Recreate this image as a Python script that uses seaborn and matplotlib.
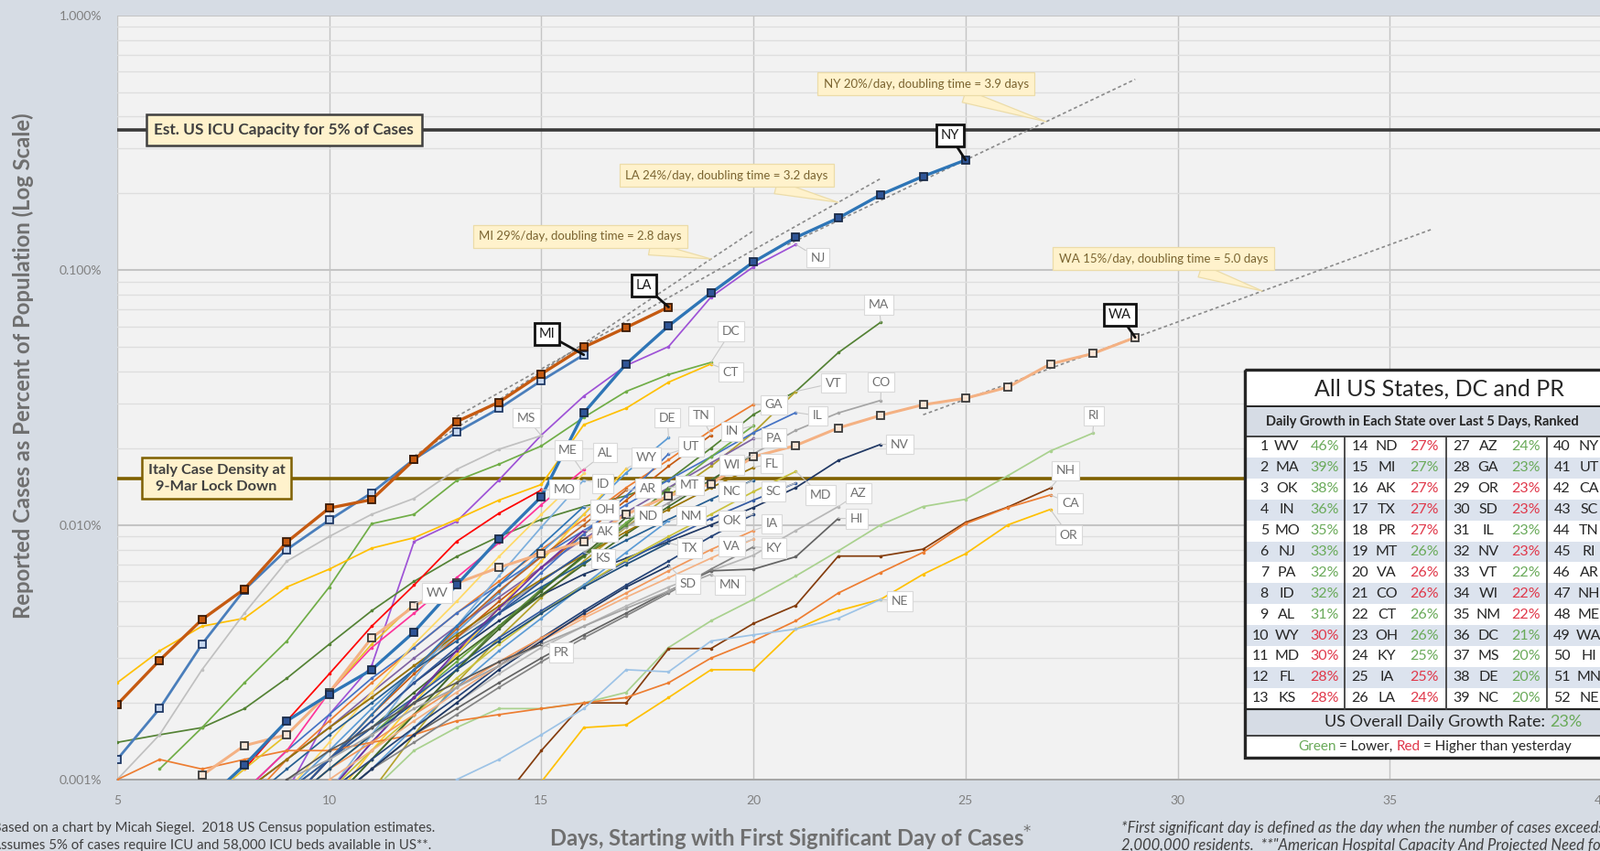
import matplotlib
matplotlib.use("Agg")
import matplotlib.pyplot as plt
from matplotlib.patches import Rectangle
from matplotlib.ticker import FixedLocator, FuncFormatter, LogLocator, NullFormatter
import numpy as np
import pandas as pd
import seaborn as sns

# ------------------------------------------------------------------
# Reported cases as percent of population, by day since first significant day.
# Each state: (first day plotted, daily values in percent)
# ------------------------------------------------------------------
NY = (7, [0.0008, 0.00114, 0.0017, 0.00216, 0.0027, 0.0038, 0.0058, 0.0088, 0.0129,
          0.0275, 0.0428, 0.0604, 0.0813, 0.1076, 0.1343, 0.160, 0.1977, 0.2333, 0.2704])
LA = (5, [0.00197, 0.00294, 0.00425, 0.0056, 0.00856, 0.01164, 0.01256, 0.0180,
          0.0254, 0.0303, 0.0391, 0.0498, 0.0595, 0.0716])
MI = (5, [0.0012, 0.0019, 0.0034, 0.00556, 0.0080, 0.01044, 0.01336, 0.0181,
          0.0231, 0.0286, 0.0368, 0.0465])
WA = (7, [0.00104, 0.00136, 0.0015, 0.0022, 0.0036, 0.0048, 0.0059, 0.0068, 0.0077,
          0.0086, 0.0110, 0.0130, 0.0145, 0.0185, 0.0205, 0.0240, 0.0269, 0.0296,
          0.0314, 0.0347, 0.0428, 0.0470, 0.0544])
NJ = (9, [0.0009, 0.0018, 0.0028, 0.0086, 0.0103, 0.0150, 0.0225, 0.032, 0.0422,
          0.0501, 0.0784, 0.103, 0.126])
MA = (5, [0.0014, 0.0015, 0.0016, 0.0019, 0.0025, 0.0034, 0.0046, 0.0060, 0.0075,
          0.0090, 0.0105, 0.0118, 0.0130, 0.0150, 0.0200, 0.0271, 0.0334, 0.0474, 0.0624])
DC = (6, [0.0011, 0.0016, 0.0024, 0.0035, 0.0057, 0.0101, 0.0110, 0.0149, 0.0173,
          0.0204, 0.0264, 0.0334, 0.0389, 0.0434])
CT = (5, [0.0024, 0.0032, 0.0040, 0.0043, 0.0057, 0.0067, 0.0081, 0.0089, 0.0105,
          0.0125, 0.0144, 0.0247, 0.0287, 0.0363, 0.0428])
VT = (11, [0.0009, 0.0015, 0.0024, 0.0036, 0.0052, 0.0072, 0.0098, 0.0130, 0.0170,
           0.0230, 0.0334])
CO = (7, [0.0008, 0.0009, 0.0012, 0.0016, 0.0021, 0.0028, 0.0036, 0.0047, 0.0060, 0.0078,
          0.0098, 0.0122, 0.0150, 0.0190, 0.0235, 0.0275, 0.0308])
GA = (8, [0.0008, 0.0012, 0.0017, 0.0024, 0.0033, 0.0045, 0.0060, 0.0080, 0.0105,
          0.0140, 0.0180, 0.0235, 0.0297])
IL = (7, [0.0008, 0.0009, 0.0013, 0.0018, 0.0025, 0.0033, 0.0045, 0.0058, 0.0075, 0.0095,
          0.0120, 0.0150, 0.0185, 0.0230, 0.0276])
RI = (11, [0.0009, 0.0013, 0.0016, 0.0019, 0.0019, 0.0020, 0.0022, 0.0033, 0.0042,
           0.0051, 0.0063, 0.0079, 0.0100, 0.0118, 0.0126, 0.0156, 0.0195, 0.0229])
MS = (5, [0.0010, 0.0015, 0.0027, 0.0045, 0.0072, 0.0090, 0.0110, 0.0127, 0.0165,
          0.0198, 0.0224])
DE = (9, [0.0009, 0.0013, 0.0019, 0.0027, 0.0038, 0.0054, 0.0078, 0.0110, 0.0160, 0.0220])
TN = (9, [0.0008, 0.0012, 0.0018, 0.0026, 0.0036, 0.0050, 0.0068, 0.0092, 0.0125,
          0.0170, 0.0225])
IN = (9, [0.0008, 0.0011, 0.0015, 0.0021, 0.0029, 0.0040, 0.0055, 0.0075, 0.0102,
          0.0138, 0.0185, 0.0245])
PA = (7, [0.0008, 0.0009, 0.0012, 0.0016, 0.0022, 0.0030, 0.0040, 0.0052, 0.0068, 0.0088,
          0.0112, 0.0140, 0.0175, 0.0218])
NV = (9, [0.0008, 0.0012, 0.0017, 0.0024, 0.0032, 0.0042, 0.0053, 0.0064, 0.0074,
          0.0086, 0.0100, 0.0117, 0.0140, 0.0179, 0.0207])
UT = (10, [0.0009, 0.0014, 0.0021, 0.0031, 0.0045, 0.0065, 0.0092, 0.0130, 0.0190])
ME = (9, [0.0009, 0.0014, 0.0022, 0.0034, 0.0050, 0.0075, 0.0110, 0.0159])
AL = (8, [0.0009, 0.0013, 0.0022, 0.0033, 0.0045, 0.0062, 0.0085, 0.0120, 0.0165])
WY = (10, [0.0008, 0.0013, 0.0020, 0.0031, 0.0047, 0.0072, 0.0110, 0.0166])
WI = (9, [0.0009, 0.0012, 0.0016, 0.0022, 0.0030, 0.0040, 0.0053, 0.0070, 0.0092,
          0.0118, 0.0150, 0.0188])
FL = (7, [0.0008, 0.0009, 0.0012, 0.0016, 0.0021, 0.0028, 0.0037, 0.0048, 0.0061, 0.0076,
          0.0094, 0.0115, 0.0140, 0.0168])
NH = (14, [0.0008, 0.0013, 0.0020, 0.0020, 0.00327, 0.00327, 0.0041, 0.00483, 0.00754,
           0.00754, 0.00803, 0.01023, 0.01175, 0.01394])
ID = (10, [0.0009, 0.0015, 0.0025, 0.0040, 0.0063, 0.0098, 0.0150])
MO = (8, [0.0011, 0.0017, 0.0026, 0.0040, 0.0058, 0.0086, 0.0111, 0.0137])
AR = (9, [0.0008, 0.0012, 0.0018, 0.0027, 0.0039, 0.0055, 0.0075, 0.0100, 0.0137])
MT = (10, [0.0008, 0.0012, 0.0018, 0.0027, 0.0040, 0.0056, 0.0075, 0.0100, 0.0140])
NC = (8, [0.0008, 0.0011, 0.0015, 0.0020, 0.0027, 0.0035, 0.0045, 0.0057, 0.0071,
          0.0087, 0.0105, 0.0126, 0.0150])
SC = (9, [0.0009, 0.0012, 0.0016, 0.0021, 0.0028, 0.0036, 0.0046, 0.0058, 0.0072,
          0.0088, 0.0106, 0.0125, 0.0146])
MD = (10, [0.0009, 0.0013, 0.0018, 0.0025, 0.0034, 0.0045, 0.0058, 0.0073, 0.0090,
           0.0110, 0.0135, 0.0162])
AZ = (10, [0.0008, 0.0011, 0.0015, 0.0020, 0.0026, 0.0033, 0.0040, 0.0048, 0.0057,
           0.0066, 0.0076, 0.0095, 0.0118])
CA = (5, [0.0010, 0.0012, 0.0011, 0.0012, 0.0013, 0.0013, 0.0014, 0.0015, 0.0017,
          0.0018, 0.0019, 0.0020, 0.0021, 0.0024, 0.0030, 0.0035, 0.0042, 0.0054,
          0.0065, 0.0078, 0.0101, 0.0117, 0.0131])
OH = (9, [0.0008, 0.0012, 0.0018, 0.0027, 0.0040, 0.0058, 0.0083, 0.0118])
ND = (10, [0.0008, 0.0012, 0.0018, 0.0027, 0.0039, 0.0055, 0.0076, 0.0107])
NM = (10, [0.0008, 0.0011, 0.0016, 0.0023, 0.0032, 0.0043, 0.0058, 0.0078, 0.0104])
HI = (10, [0.0008, 0.0011, 0.0015, 0.0019, 0.0024, 0.0030, 0.0037, 0.0045, 0.0055,
           0.0066, 0.0067, 0.0075, 0.0106])
OK = (10, [0.0009, 0.0012, 0.0016, 0.0021, 0.0028, 0.0036, 0.0046, 0.0058, 0.0072,
           0.0090, 0.0110])
AK = (10, [0.0009, 0.0014, 0.0021, 0.0032, 0.0047, 0.0068, 0.0095])
IA = (9, [0.0008, 0.0011, 0.0014, 0.0018, 0.0023, 0.0029, 0.0036, 0.0044, 0.0054,
          0.0066, 0.0080, 0.0095])
OR = (14, [0.0007, 0.00098, 0.0016, 0.00164, 0.0021, 0.0027, 0.0027, 0.0039, 0.0046,
           0.0051, 0.0064, 0.0077, 0.0100, 0.0115])
TX = (9, [0.0008, 0.0011, 0.0015, 0.0020, 0.0027, 0.0035, 0.0045, 0.0057, 0.0070, 0.0085])
VA = (9, [0.0008, 0.0010, 0.0013, 0.0017, 0.0022, 0.0028, 0.0035, 0.0043, 0.0052,
          0.0062, 0.0074, 0.0088])
KY = (10, [0.0008, 0.0011, 0.0014, 0.0018, 0.0023, 0.0029, 0.0036, 0.0044, 0.0054,
           0.0067, 0.0082])
KS = (9, [0.0008, 0.0012, 0.0017, 0.0024, 0.0033, 0.0045, 0.0060, 0.0078])
SD = (10, [0.0008, 0.0011, 0.0015, 0.0020, 0.0027, 0.0035, 0.0045, 0.0057, 0.0069])
MN = (8, [0.0008, 0.0010, 0.0012, 0.0015, 0.0019, 0.0023, 0.0028, 0.0034, 0.0040,
          0.0047, 0.0055, 0.0064])
WV = (7, [0.0008, 0.0011, 0.0015, 0.0022, 0.0034, 0.0049])
NE = (12, [0.0008, 0.0010, 0.0012, 0.0015, 0.0019, 0.0027, 0.00265, 0.0035, 0.0037,
           0.0039, 0.0043, 0.0051])
PR = (8, [0.0008, 0.0010, 0.0013, 0.0016, 0.0020, 0.0024, 0.0029, 0.0034])

SERIES = {
    "NY": NY, "LA": LA, "MI": MI, "WA": WA, "NJ": NJ, "MA": MA, "DC": DC, "CT": CT,
    "VT": VT, "CO": CO, "GA": GA, "IL": IL, "RI": RI, "MS": MS, "DE": DE, "TN": TN,
    "IN": IN, "PA": PA, "NV": NV, "UT": UT, "ME": ME, "AL": AL, "WY": WY, "WI": WI,
    "FL": FL, "NH": NH, "ID": ID, "MO": MO, "AR": AR, "MT": MT, "NC": NC, "SC": SC,
    "MD": MD, "AZ": AZ, "CA": CA, "OH": OH, "ND": ND, "NM": NM, "HI": HI, "OK": OK,
    "AK": AK, "IA": IA, "OR": OR, "TX": TX, "VA": VA, "KY": KY, "KS": KS, "SD": SD,
    "MN": MN, "WV": WV, "NE": NE, "PR": PR,
}

# Reference levels (percent of population)
ICU_CAPACITY_PCT = 0.355     # 58,000 ICU beds, 5% of cases needing ICU
ITALY_LOCKDOWN_PCT = 0.0152  # Italy case density on 9 March

# Fitted growth of the four highlighted states
TREND_STATES = ["NY", "LA", "MI", "WA"]
TREND_RATE = [20, 24, 29, 15]            # % per day
TREND_DOUBLING = [3.9, 3.2, 2.8, 5.0]    # days
TREND_ANCHOR_DAY = [25, 18, 16, 29]
TREND_ANCHOR_PCT = [0.2704, 0.078, 0.0515, 0.0544]

# Ranking table: daily growth over the last 5 days
RANK_STATES = ["WV", "MA", "OK", "IN", "MO", "NJ", "PA", "ID", "AL", "WY", "MD", "FL", "KS",
               "ND", "MI", "AK", "TX", "PR", "MT", "VA", "CO", "CT", "OH", "KY", "IA", "LA",
               "AZ", "GA", "OR", "SD", "IL", "NV", "VT", "WI", "NM", "DC", "MS", "DE", "NC",
               "NY", "UT", "CA", "SC", "TN", "RI", "AR", "NH", "ME", "WA", "HI", "MN", "NE"]
RANK_GROWTH = [46, 39, 38, 36, 35, 33, 32, 32, 31, 30, 30, 28, 28,
               27, 27, 27, 27, 27, 26, 26, 26, 26, 26, 25, 25, 24,
               24, 23, 23, 23, 23, 23, 22, 22, 22, 21, 20, 20, 20]
RANK_CHANGE = list("GGGGGGGGGRRRR" "RGRRRGRRGGGRR" "GGRRGRGRRGGGG")
US_OVERALL_GROWTH = 23

# ------------------------------------------------------------------
# Styling
# ------------------------------------------------------------------
COLORS = {
    "NY": "#2e75b6", "LA": "#c55a11", "MI": "#4a7ebb", "WA": "#f4b183",
    "NJ": "#9e52d6", "MA": "#548235", "DC": "#70ad47", "CT": "#ffc000", "VT": "#b4a22b",
    "CO": "#a5a5a5", "GA": "#ed7d31", "IL": "#4472c4", "RI": "#a9d18e", "MS": "#c0c0c0",
    "DE": "#5b9bd5", "TN": "#c55a11", "IN": "#70ad47", "PA": "#8064a2", "NV": "#203864",
    "UT": "#4472c4", "ME": "#ffd966", "AL": "#ff3399", "WY": "#ffcd33", "WI": "#43682b",
    "FL": "#997300", "NH": "#843c0c", "ID": "#7cafdd", "MO": "#ff0000", "AR": "#bd6324",
    "MT": "#5a8a39", "NC": "#255e91", "SC": "#335aa1", "MD": "#c9c13c", "AZ": "#b7b7b7",
    "CA": "#ed7d31", "OH": "#2f75b5", "ND": "#43682b", "NM": "#5b9bd5", "HI": "#636363",
    "OK": "#264478", "AK": "#7030a0", "IA": "#f1975a", "OR": "#ffc000", "TX": "#1f4e79",
    "VA": "#f4b183", "KY": "#848484", "KS": "#2f5597", "SD": "#1f3864", "MN": "#a5a5a5",
    "WV": "#e6c229", "NE": "#9dc3e6", "PR": "#595959",
}
HIGHLIGHT_STYLE = {
    "WA": dict(lw=2.2, markerfacecolor="#fbe5d6", markeredgecolor="#3a3a3a"),
    "MI": dict(lw=2.0, markerfacecolor="#c5d6ee", markeredgecolor="#1f3864"),
    "NY": dict(lw=2.4, markerfacecolor="#2f5597", markeredgecolor="#1a2b48"),
    "LA": dict(lw=2.4, markerfacecolor="#c55a11", markeredgecolor="#3a1a06"),
}
LABEL_AT = {
    "NY": (24.63, 0.337), "NJ": (21.52, 0.1117), "LA": (17.42, 0.0871), "MI": (15.13, 0.056),
    "MA": (22.96, 0.0731), "WA": (28.63, 0.0667), "DC": (19.47, 0.0575), "CT": (19.47, 0.0398),
    "VT": (21.88, 0.036), "CO": (23.01, 0.0363), "GA": (20.48, 0.0296), "IL": (21.52, 0.0268),
    "RI": (28.03, 0.0268), "MS": (14.65, 0.0263), "DE": (17.97, 0.0263), "TN": (18.77, 0.0268),
    "IN": (19.49, 0.0233), "PA": (20.48, 0.0219), "NV": (23.45, 0.0207), "UT": (18.53, 0.0203),
    "ME": (15.63, 0.0196), "AL": (16.5, 0.0192), "WY": (17.47, 0.0184), "WI": (19.49, 0.0172),
    "FL": (20.43, 0.0174), "NH": (27.35, 0.0163), "ID": (16.45, 0.0145), "MO": (15.54, 0.0138),
    "AR": (17.52, 0.0139), "MT": (18.50, 0.0143), "NC": (19.49, 0.01355), "SC": (20.48, 0.01355),
    "MD": (21.59, 0.0131), "AZ": (22.48, 0.0133), "CA": (27.47, 0.01213), "OH": (16.5, 0.01148),
    "ND": (17.52, 0.01086), "NM": (18.53, 0.01086), "HI": (22.43, 0.01057), "OK": (19.49, 0.01038),
    "AK": (16.5, 0.00938), "IA": (20.43, 0.01009), "OR": (27.43, 0.00912), "TX": (18.50, 0.00809),
    "VA": (19.49, 0.00824), "KY": (20.48, 0.00809), "KS": (16.45, 0.00738), "SD": (18.46, 0.00586),
    "MN": (19.44, 0.00581), "WV": (12.55, 0.0054), "NE": (23.45, 0.00501), "PR": (15.47, 0.00316),
}
TREND_SPAN = {"NY": (20.8, 29.0), "LA": (13.0, 23.0), "MI": (12.0, 20.0), "WA": (24.0, 36.0)}
CALLOUT_AT = {"NY": (24.07, 0.537), "LA": (19.37, 0.2355), "MI": (15.92, 0.1355), "WA": (29.67, 0.1107)}
CALLOUT_TIP_DAY = {"NY": 26.9, "LA": 22.0, "MI": 19.0, "WA": 32.0}

FIG_BG = "#d6dce4"
PLOT_BG = "#f2f2f2"
W, H = 1749, 930

sns.set_theme(style="white")
plt.rcParams["font.family"] = ["Lato", "DejaVu Sans"]

# long-form table of every plotted point
rows = []
for st, (first, vals) in SERIES.items():
    for i, v in enumerate(vals):
        rows.append((st, first + i, v))
cases = pd.DataFrame(rows, columns=["state", "day", "pct"])

fig = plt.figure(figsize=(W / 100, H / 100), dpi=100, facecolor=FIG_BG)
ax = fig.add_axes([128 / W, 1 - 852 / H, (1750 - 128) / W, (852 - 16.7) / H])
ax.set_facecolor(PLOT_BG)
ax.set_yscale("log")
ax.set_xlim(5, 40)
ax.set_ylim(0.001, 1.0)

# grid
ax.xaxis.set_major_locator(FixedLocator(range(5, 41, 5)))
ax.xaxis.set_minor_locator(FixedLocator(range(5, 41)))
ax.yaxis.set_major_locator(FixedLocator([0.001, 0.01, 0.1, 1.0]))
ax.yaxis.set_minor_locator(LogLocator(base=10, subs=np.arange(2, 10)))
ax.yaxis.set_minor_formatter(NullFormatter())
ax.yaxis.set_major_formatter(FuncFormatter(lambda v, _: f"{v:.3f}%"))
ax.grid(which="major", axis="x", color="#c4c4c4", lw=1.0)
ax.grid(which="major", axis="y", color="#c4c4c4", lw=1.5)
ax.grid(which="minor", axis="y", color="#dedede", lw=1.0)
ax.set_axisbelow(True)
for s in ("left", "top", "right"):
    ax.spines[s].set_visible(False)
ax.spines["bottom"].set_color("#a6a6a6")
ax.spines["bottom"].set_linewidth(1.4)
ax.tick_params(axis="x", which="both", direction="in", length=4, width=1,
               color="#a6a6a6", labelsize=10, labelcolor="#808080", pad=12)
ax.tick_params(axis="y", which="both", length=0, labelsize=10,
               labelcolor="#808080", pad=12)

# reference levels
ax.axhline(ICU_CAPACITY_PCT, color="#3a3a3a", lw=2.6, zorder=2)
ax.axhline(ITALY_LOCKDOWN_PCT, color="#7f6000", lw=2.6, zorder=2)

# thin state lines
for st in SERIES:
    if st in HIGHLIGHT_STYLE:
        continue
    sns.lineplot(data=cases[cases.state == st], x="day", y="pct", ax=ax,
                 color=COLORS[st], lw=1.25, marker="o", markersize=2.6,
                 markeredgewidth=0, markeredgecolor=COLORS[st],
                 estimator=None, legend=False, zorder=3)

# trend lines of the highlighted states
for st, rate, a_day, a_pct in zip(TREND_STATES, TREND_RATE, TREND_ANCHOR_DAY, TREND_ANCHOR_PCT):
    d0, d1 = TREND_SPAN[st]
    days = np.array([d0, d1])
    ax.plot(days, a_pct * (1 + rate / 100) ** (days - a_day), ls=(0, (2.2, 1.8)),
            color="#8a8a8a", lw=1.2, zorder=4)

# highlighted state lines
for st in ["WA", "MI", "NY", "LA"]:
    sty = HIGHLIGHT_STYLE[st]
    sns.lineplot(data=cases[cases.state == st], x="day", y="pct", ax=ax,
                 color=COLORS[st], lw=sty["lw"], marker="s", markersize=6,
                 markerfacecolor=sty["markerfacecolor"],
                 markeredgecolor=sty["markeredgecolor"], markeredgewidth=1.3,
                 estimator=None, legend=False, zorder=5)
ax.set_xlabel("")
ax.set_ylabel("")

# state labels at line ends
for st, (first, vals) in SERIES.items():
    end = (first + len(vals) - 1, vals[-1])
    big = st in HIGHLIGHT_STYLE
    ax.annotate(st, xy=end, xytext=LABEL_AT[st], ha="center", va="center",
                fontsize=10.5 if big else 10, color="#1a1a1a" if big else "#707070",
                bbox=dict(boxstyle="square,pad=0.34", fc="white",
                          ec="#111111" if big else "#d9d9d9", lw=2.0 if big else 0.8),
                arrowprops=dict(arrowstyle="-", color="#111111" if big else "#c8c8c8",
                                lw=2.0 if big else 0.8, shrinkA=0, shrinkB=0),
                zorder=8 if big else 7, annotation_clip=False)

# growth callouts
for st, rate, dbl, a_day, a_pct in zip(TREND_STATES, TREND_RATE, TREND_DOUBLING,
                                       TREND_ANCHOR_DAY, TREND_ANCHOR_PCT):
    tip_day = CALLOUT_TIP_DAY[st]
    tip = (tip_day, a_pct * (1 + rate / 100) ** (tip_day - a_day))
    ax.annotate(f"{st} {rate}%/day, doubling time = {dbl:.1f} days", xy=tip,
                xytext=CALLOUT_AT[st], ha="center", va="center", fontsize=9.5,
                color="#7a6430",
                bbox=dict(boxstyle="square,pad=0.5", fc="#fff2cc", ec="#ecdca8", lw=0.9),
                arrowprops=dict(arrowstyle="wedge,tail_width=1.1,shrink_factor=0.5",
                                fc="#fff2cc", ec="#ecdca8", lw=0.9, shrinkA=0, shrinkB=0),
                zorder=9)

# reference level boxes
ax.text(8.93, ICU_CAPACITY_PCT, "Est. US ICU Capacity for 5% of Cases", ha="center",
        va="center", fontsize=12.4, weight="bold", color="#404040", zorder=9,
        bbox=dict(boxstyle="square,pad=0.5", fc="#fff2cc", ec="#404040", lw=1.8))
ax.text(7.34, ITALY_LOCKDOWN_PCT, "Italy Case Density at\n9-Mar Lock Down", ha="center",
        va="center", fontsize=11.8, weight="bold", color="#404040", zorder=9,
        linespacing=1.3, multialignment="center",
        bbox=dict(boxstyle="square,pad=0.42", fc="#fff2cc", ec="#7f6000", lw=1.8))

# axis titles and footnotes
fig.text(25 / W, 1 - 400 / H, "Reported Cases as Percent of Population (Log Scale)",
         rotation=90, ha="center", va="center", fontsize=17.2, weight="bold", color="#6f6f6f")
fig.text(864 / W, 1 - 916 / H, "Days, Starting with First Significant Day of Cases$^{*}$",
         ha="center", va="center", fontsize=17.2, weight="bold", color="#6f6f6f")
fig.text(-8 / W, 1 - 905 / H,
         "Based on a chart by Micah Siegel.  2018 US Census population estimates.",
         ha="left", va="center", fontsize=10.8, color="#404040")
fig.text(-9 / W, 1 - 924 / H,
         "Assumes 5% of cases require ICU and 58,000 ICU beds available in US**.",
         ha="left", va="center", fontsize=10.8, color="#404040")
fig.text(1225 / W, 1 - 905 / H,
         "*First significant day is defined as the day when the number of cases exceeds 1 per",
         ha="left", va="center", fontsize=12, style="italic", color="#404040")
fig.text(1225 / W, 1 - 924 / H,
         '2,000,000 residents.  **"American Hospital Capacity And Projected Need for COVID-19 Patient Care"',
         ha="left", va="center", fontsize=12, style="italic", color="#404040")

# ------------------------------------------------------------------
# Ranking table (pixel coordinates)
# ------------------------------------------------------------------
tax = fig.add_axes([0, 0, 1, 1], zorder=10)
tax.set_xlim(0, W)
tax.set_ylim(H, 0)
tax.axis("off")
tax.patch.set_alpha(0)

TX0, TX1 = 1360, 1770
Y_TITLE, Y_SUB, Y_ROWS = 404, 444, 477
ROW_H = 22.9
N_ROWS = 13
Y_OVER = Y_ROWS + N_ROWS * ROW_H
Y_LEG = Y_OVER + 29
Y_END = Y_LEG + 24
GROUP_X = [1360, 1469, 1580, 1690]
GREEN, RED, INK = "#6aaa5a", "#e0384a", "#262626"
BAND = "#dce3ee"

tax.add_patch(Rectangle((TX0, Y_TITLE), TX1 - TX0, Y_END - Y_TITLE, fc="white", ec="none"))
tax.add_patch(Rectangle((TX0, Y_SUB), TX1 - TX0, Y_ROWS - Y_SUB, fc="#d6dce5", ec="none"))
for r in range(N_ROWS):
    if r % 2 == 1:
        tax.add_patch(Rectangle((TX0, Y_ROWS + r * ROW_H), TX1 - TX0, ROW_H, fc=BAND, ec="none"))
tax.add_patch(Rectangle((TX0, Y_OVER), TX1 - TX0, Y_LEG - Y_OVER, fc="#d6dce5", ec="none"))
for y, lw in [(Y_SUB, 1.4), (Y_ROWS, 1.2), (Y_OVER, 1.6), (Y_LEG, 1.2)]:
    tax.plot([TX0, TX1], [y, y], color=INK, lw=lw)
for gx in GROUP_X[1:]:
    tax.plot([gx, gx], [Y_ROWS, Y_OVER], color="#404040", lw=1.3)
tax.add_patch(Rectangle((TX0, Y_TITLE), TX1 - TX0, Y_END - Y_TITLE, fc="none", ec=INK, lw=2.4))

tax.text(1436, (Y_TITLE + Y_SUB) / 2 + 1, "All US States, DC and PR", ha="left", va="center",
         fontsize=18, color=INK)
tax.text(1383, (Y_SUB + Y_ROWS) / 2, "Daily Growth in Each State over Last 5 Days, Ranked",
         ha="left", va="center", fontsize=10.5, weight="bold", color=INK)

for i, st in enumerate(RANK_STATES):
    g, r = divmod(i, N_ROWS)
    base = GROUP_X[g]
    y = Y_ROWS + (r + 0.5) * ROW_H
    tax.text(base + 26, y, str(i + 1), ha="right", va="center", fontsize=11.5, color=INK)
    tax.text(base + 46, y, st, ha="center", va="center", fontsize=11.5, color=INK)
    if i < len(RANK_GROWTH):
        tax.text(base + 103, y, f"{RANK_GROWTH[i]}%", ha="right", va="center", fontsize=11.5,
                 color=GREEN if RANK_CHANGE[i] == "G" else RED)

tax.text(1688, (Y_OVER + Y_LEG) / 2, "US Overall Daily Growth Rate:", ha="right", va="center",
         fontsize=13, color=INK)
tax.text(1693, (Y_OVER + Y_LEG) / 2, f"{US_OVERALL_GROWTH}%", ha="left", va="center",
         fontsize=13, color=GREEN)

renderer = fig.canvas.get_renderer()


def chain(x, y, parts, size):
    """Draw coloured text pieces one after another on a single line."""
    probe = tax.text(0, 0, "a a", fontsize=size)
    probe2 = tax.text(0, 0, "aa", fontsize=size)
    space = probe.get_window_extent(renderer).width - probe2.get_window_extent(renderer).width
    probe.remove()
    probe2.remove()
    for s, c in parts:
        t = tax.text(x, y, s, ha="left", va="center", fontsize=size, color=c)
        x += t.get_window_extent(renderer).width + space


chain(1418, (Y_LEG + Y_END) / 2,
      [("Green", GREEN), ("= Lower,", INK), ("Red", RED), ("= Higher than yesterday", INK)], 11)

fig.savefig("out.png", dpi=100, facecolor=fig.get_facecolor())
